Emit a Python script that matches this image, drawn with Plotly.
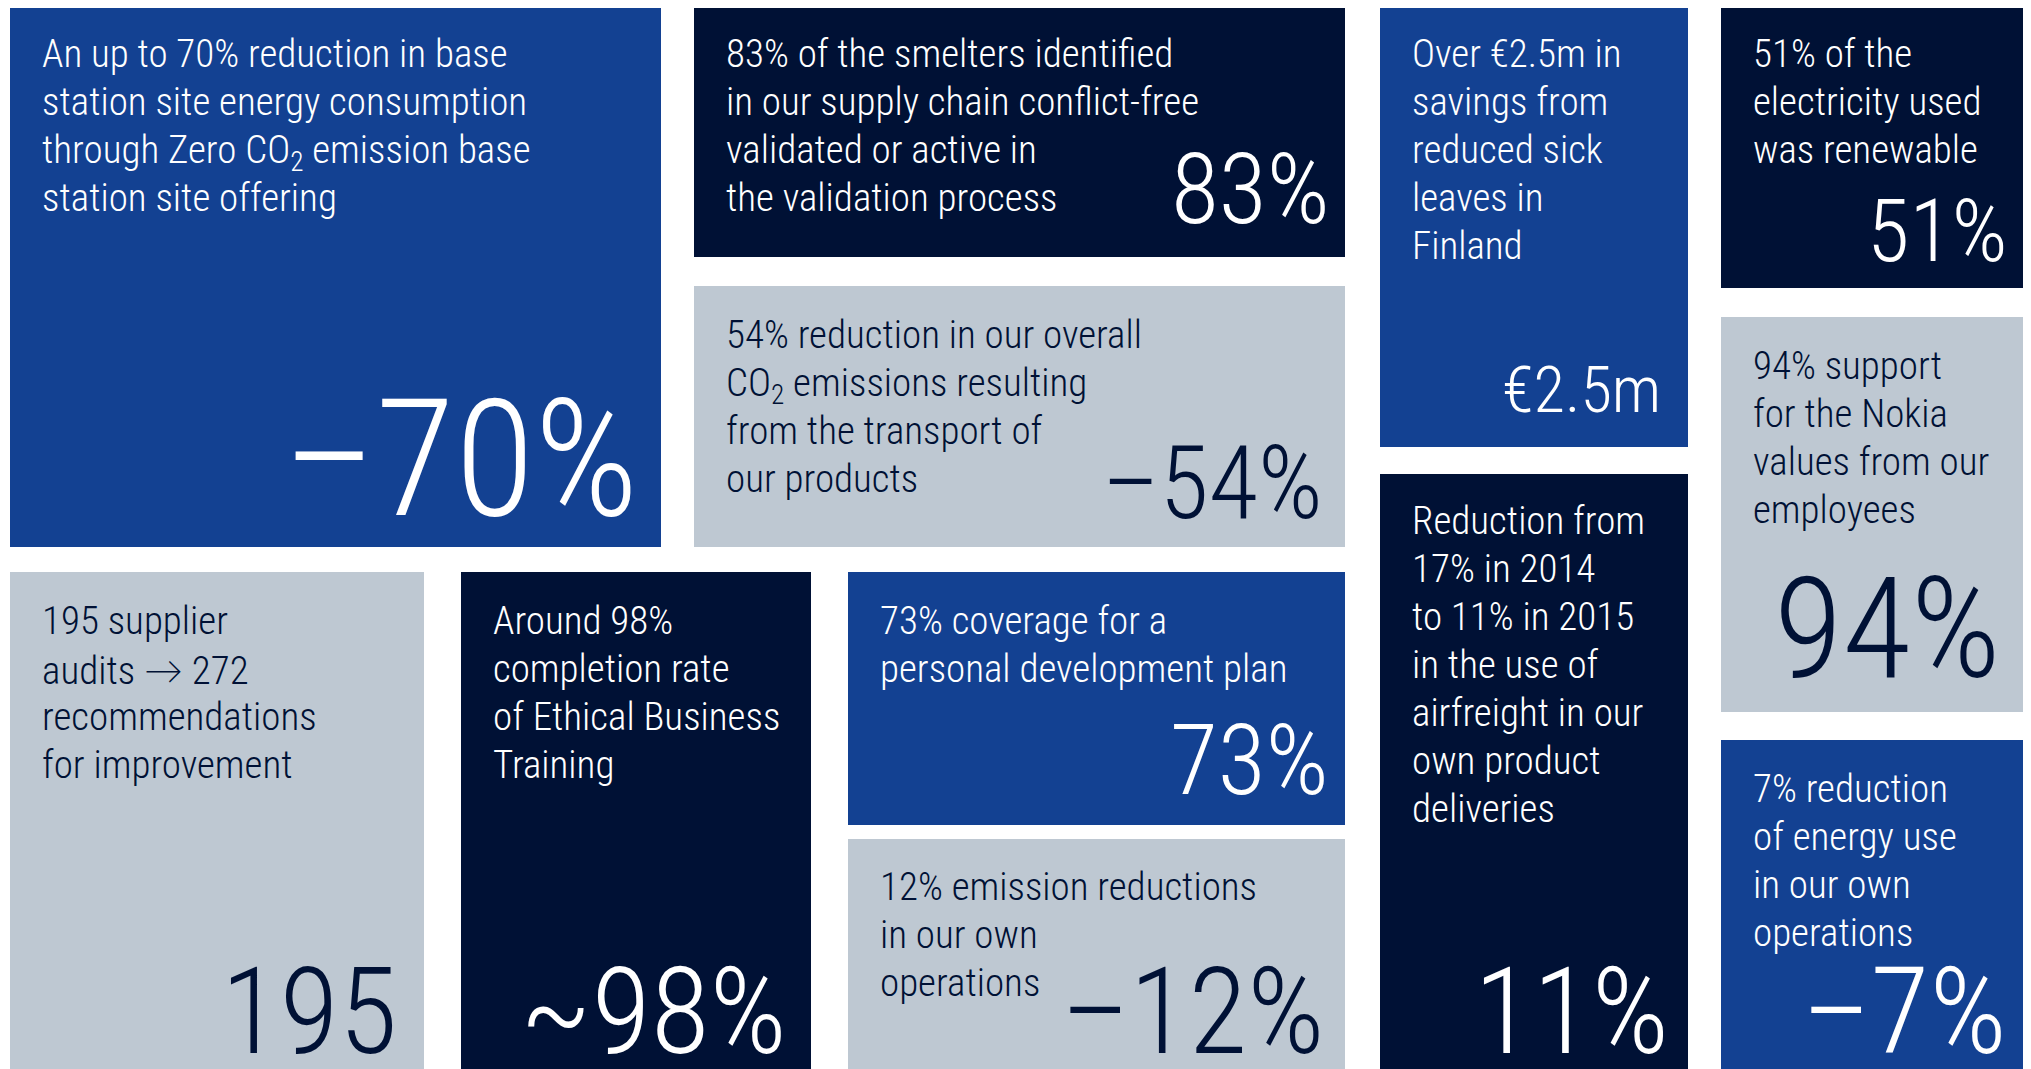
import plotly.graph_objects as go

# ---------------- data ----------------
headline_values = ["–70%", "83%", "–54%", "€2.5m", "11%", "51%",
                   "94%", "–7%", "195", "~98%", "73%", "–12%"]

descriptions = [
    ["An up to 70% reduction in base", "station site energy consumption",
     "through Zero CO<sub>2</sub> emission base", "station site offering"],
    ["83% of the smelters identified", "in our supply chain conflict-free",
     "validated or active in", "the validation process"],
    ["54% reduction in our overall", "CO<sub>2</sub> emissions resulting",
     "from the transport of", "our products"],
    ["Over €2.5m in", "savings from", "reduced sick", "leaves in", "Finland"],
    ["Reduction from", "17% in 2014", "to 11% in 2015", "in the use of",
     "airfreight in our", "own product", "deliveries"],
    ["51% of the", "electricity used", "was renewable"],
    ["94% support", "for the Nokia", "values from our", "employees"],
    ["7% reduction", "of energy use", "in our own", "operations"],
    ["195 supplier", "audits <span style='font-family:Lato'>→</span> 272",
     "recommendations", "for improvement"],
    ["Around 98%", "completion rate", "of Ethical Business", "Training"],
    ["73% coverage for a", "personal development plan"],
    ["12% emission reductions", "in our own", "operations"],
]

tile_theme = ["blue", "navy", "grey", "blue", "navy", "navy",
              "grey", "blue", "grey", "navy", "blue", "grey"]

# ---------------- layout / style (page-pixel geometry of the mosaic) ----------------
W, H = 2031, 1069
BODY = 8  # default page margin around the plot div
tile_rects = [  # x0, y0, x1, y1
    (10, 6, 661, 539), (694, 6, 1345, 249), (694, 286, 1345, 539),
    (1380, 6, 1688, 439), (1380, 474, 1688, 1069), (1721, 6, 2029, 280),
    (1721, 317, 2029, 704), (1721, 740, 2029, 1069), (10, 572, 424, 1069),
    (461, 572, 811, 1069), (848, 572, 1345, 817), (848, 839, 1345, 1069),
]
desc_cap_top = [39, 39, 320, 39, 506, 39, 351, 774, 606, 606, 606, 872]
desc_left_pad = 31
big_cap = [116, 70, 72, 46, 86, 62, 100, 86, 86, 86, 70, 86]
big_baseline = [514, 222, 517, 411, 1052, 260, 677, 1052, 1052, 1052, 793, 1052]
big_right = [640, 1331, 1324, 1662, 1670, 2009, 2002, 2008, 398, 788, 1330, 1326]

themes = {
    "blue": dict(bg="#134192", fg="#FFFFFF"),
    "navy": dict(bg="#001135", fg="#FFFFFF"),
    "grey": dict(bg="#BEC8D2", fg="#001135"),
}

FONT = "Roboto Condensed, Roboto, sans-serif"
ASC, CAP = 0.928, 0.711  # font metrics (em)
DESC_SIZE = 39
LINE_PITCH = 48

fig = go.Figure()

for i, (x0, y0, x1, y1) in enumerate(tile_rects):
    th = themes[tile_theme[i]]
    fig.add_shape(type="rect", xref="x", yref="y", x0=x0, y0=y0, x1=x1, y1=y1 + BODY,
                  fillcolor=th["bg"], line=dict(width=0), layer="below")
    for k, line in enumerate(descriptions[i]):
        cap_top = desc_cap_top[i] + k * LINE_PITCH
        fig.add_annotation(
            x=x0 + desc_left_pad, y=cap_top - (ASC - CAP) * DESC_SIZE - 1,
            xref="x", yref="y", xanchor="left", yanchor="top",
            text=line, showarrow=False, borderpad=0,
            font=dict(family=FONT, size=DESC_SIZE, weight=300, color=th["fg"]))
    size = big_cap[i] / CAP
    fig.add_annotation(
        x=big_right[i], y=big_baseline[i] - ASC * size,
        xref="x", yref="y", xanchor="right", yanchor="top",
        text=headline_values[i], showarrow=False, borderpad=0,
        font=dict(family=FONT, size=size, weight=300, color=th["fg"]))

fig.update_xaxes(range=[BODY, W], visible=False, fixedrange=True)
fig.update_yaxes(range=[H, BODY], visible=False, fixedrange=True)
fig.update_layout(width=W - BODY, height=H - BODY,
                  margin=dict(l=0, r=0, t=0, b=0, pad=0),
                  plot_bgcolor="white", paper_bgcolor="white", showlegend=False,
                  hovermode=False)
fig.write_html("out.html", config={"displayModeBar": False})
